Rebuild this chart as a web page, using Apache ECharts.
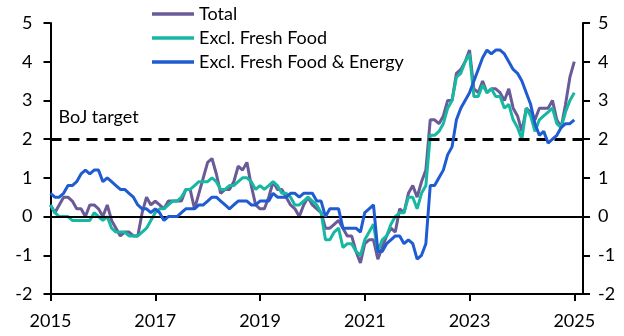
<!DOCTYPE html>
<html>
<head>
<meta charset="utf-8">
<script src="https://cdn.jsdelivr.net/npm/echarts@6/dist/echarts.min.js"></script>
<style>
  html, body { margin: 0; padding: 0; background: #fff; }
  #chart { width: 624px; height: 336px; }
</style>
</head>
<body>
<div id="chart"></div>
<script>
// Japan consumer prices, % y/y, monthly from Jan 2015 to Jan 2025
const startYear = 2015;
const tickYears = [2015, 2017, 2019, 2021, 2023, 2025];
const seriesNames = ['Total', 'Excl. Fresh Food', 'Excl. Fresh Food & Energy'];
const bojTarget = 2;

const total = [
  0.3, 0.1, 0.3, 0.5, 0.5, 0.4, 0.2, 0.2, 0.0, 0.3, 0.3, 0.2,
  0.0, 0.3, -0.1, -0.3, -0.5, -0.4, -0.4, -0.5, -0.5, 0.1, 0.5, 0.3,
  0.4, 0.3, 0.2, 0.4, 0.4, 0.4, 0.4, 0.7, 0.7, 0.2, 0.6, 1.0,
  1.4, 1.5, 1.1, 0.6, 0.7, 0.7, 0.9, 1.3, 1.2, 1.4, 0.8, 0.3,
  0.2, 0.2, 0.5, 0.9, 0.7, 0.7, 0.5, 0.3, 0.2, 0.0, 0.3, 0.5,
  0.3, 0.2, 0.1, -0.3, -0.3, -0.2, -0.1, -0.3, -0.5, -0.5, -0.9, -1.2,
  -0.7, -0.6, -0.6, -1.1, -0.8, -0.5, -0.3, -0.4, 0.2, 0.1, 0.6, 0.8,
  0.5, 0.9, 1.2, 2.5, 2.5, 2.4, 2.6, 3.0, 3.0, 3.7, 3.8, 4.0,
  4.3, 3.3, 3.2, 3.5, 3.2, 3.3, 3.3, 3.2, 3.0, 3.3, 2.8, 2.6,
  2.2, 2.8, 2.7, 2.5, 2.8, 2.8, 2.8, 3.0, 2.5, 2.3, 2.9, 3.6,
  4.0
];

const exFreshFood = [
  0.3, 0.1, 0.0, 0.0, 0.0, -0.1, -0.1, -0.1, -0.1, -0.1, 0.1, 0.0,
  -0.1, 0.0, -0.3, -0.4, -0.4, -0.4, -0.5, -0.5, -0.5, -0.4, -0.3, -0.1,
  0.1, 0.2, 0.2, 0.3, 0.4, 0.4, 0.5, 0.7, 0.7, 0.8, 0.9, 0.9,
  0.9, 1.0, 0.9, 0.7, 0.7, 0.8, 0.8, 0.9, 1.0, 1.0, 0.9, 0.7,
  0.8, 0.7, 0.8, 0.9, 0.8, 0.6, 0.6, 0.5, 0.3, 0.3, 0.4, 0.5,
  0.4, 0.3, 0.1, -0.6, -0.6, -0.4, -0.3, -0.8, -0.7, -0.7, -0.9, -1.0,
  -0.6, -0.4, -0.2, -0.9, -0.6, -0.5, -0.2, 0.0, 0.1, 0.1, 0.5, 0.5,
  0.2, 0.6, 0.8, 2.1, 2.1, 2.2, 2.4, 2.8, 3.0, 3.6, 3.7, 4.0,
  4.2, 3.1, 3.1, 3.4, 3.2, 3.3, 3.1, 3.1, 2.8, 2.9, 2.5, 2.3,
  2.0, 2.8, 2.6, 2.2, 2.5, 2.6, 2.7, 2.8, 2.4, 2.3, 2.7, 3.0,
  3.2
];

const exFreshFoodEnergy = [
  0.6, 0.5, 0.5, 0.6, 0.8, 0.8, 0.9, 1.1, 1.2, 1.1, 1.2, 1.2,
  0.9, 1.0, 0.9, 0.8, 0.7, 0.7, 0.6, 0.5, 0.3, 0.2, 0.2, 0.1,
  0.2, 0.1, -0.1, 0.0, 0.0, 0.0, 0.1, 0.2, 0.2, 0.2, 0.3, 0.3,
  0.4, 0.5, 0.5, 0.4, 0.3, 0.2, 0.3, 0.4, 0.4, 0.4, 0.3, 0.3,
  0.4, 0.4, 0.4, 0.6, 0.5, 0.5, 0.5, 0.6, 0.6, 0.5, 0.6, 0.6,
  0.6, 0.4, 0.4, 0.0, 0.2, 0.2, 0.2, -0.3, -0.3, -0.3, -0.3, -0.4,
  0.1, 0.2, 0.3, -0.9, -0.9, -0.7, -0.6, -0.5, -0.5, -0.7, -0.6, -0.7,
  -1.1, -1.0, -0.7, 0.8, 0.8, 1.0, 1.2, 1.6, 1.8, 2.5, 2.8, 3.0,
  3.2, 3.5, 3.8, 4.1, 4.3, 4.2, 4.3, 4.3, 4.2, 4.0, 3.8, 3.7,
  3.5, 3.2, 2.9, 2.4, 2.1, 2.2, 1.9, 2.0, 2.1, 2.3, 2.4, 2.4,
  2.5
];

const colors = ['#6A5A98', '#17B8A2', '#1F5BD2'];
const FONT = 'Lato';
const toPoints = arr => arr.map((v, i) => [i, v]);
const tickMonths = tickYears.map(y => (y - startYear) * 12);

const chart = echarts.init(document.getElementById('chart'), null, { renderer: 'canvas' });

const yAxisBase = {
  type: 'value', min: -2, max: 5, interval: 1,
  axisLine: { show: true, lineStyle: { color: '#000', width: 2 } },
  axisTick: { show: true, length: 7, lineStyle: { color: '#000', width: 2 } },
  splitLine: { show: false },
  axisLabel: { color: '#000', fontSize: 18, fontFamily: FONT }
};

chart.setOption({
  animation: false,
  color: colors,
  textStyle: { fontFamily: FONT },
  grid: { left: 50.5, right: 41, top: 23, bottom: 42, containLabel: false },
  legend: {
    orient: 'vertical', left: 147, top: -3,
    itemWidth: 42, itemHeight: 3.5, itemGap: 0, icon: 'rect',
    textStyle: { color: '#000', fontSize: 18, fontFamily: FONT, lineHeight: 24 },
    data: seriesNames
  },
  xAxis: {
    type: 'value', min: 0, max: 122,
    axisLine: { onZero: false, lineStyle: { color: '#000', width: 2 } },
    axisTick: { show: true, customValues: tickMonths, length: 7, lineStyle: { color: '#000', width: 2 } },
    axisLabel: {
      customValues: tickMonths, color: '#000', fontSize: 18, fontFamily: FONT, margin: 18,
      formatter: v => String(startYear + v / 12)
    },
    splitLine: { show: false }
  },
  yAxis: [
    Object.assign({}, yAxisBase, { position: 'left', axisLabel: Object.assign({}, yAxisBase.axisLabel, { margin: 18 }) }),
    Object.assign({}, yAxisBase, { position: 'right', axisLabel: Object.assign({}, yAxisBase.axisLabel, { margin: 15 }) })
  ],
  series: [
    {
      name: seriesNames[0], type: 'line', data: toPoints(total),
      symbol: 'none', lineStyle: { width: 3 }, z: 3,
      markLine: {
        silent: true, symbol: ['none', 'none'], animation: false,
        data: [
          { yAxis: 0, lineStyle: { color: '#000', width: 2, type: 'solid' }, label: { show: false } },
          {
            yAxis: bojTarget,
            lineStyle: { color: '#000', width: 3, type: [11, 7] },
            label: {
              show: true, position: 'insideStartTop', formatter: 'BoJ target',
              color: '#000', fontSize: 18, fontFamily: FONT, distance: [8, 13]
            }
          }
        ]
      }
    },
    { name: seriesNames[1], type: 'line', data: toPoints(exFreshFood), symbol: 'none', lineStyle: { width: 3 }, z: 4 },
    { name: seriesNames[2], type: 'line', data: toPoints(exFreshFoodEnergy), symbol: 'none', lineStyle: { width: 3 }, z: 5 }
  ]
});
</script>
</body>
</html>
